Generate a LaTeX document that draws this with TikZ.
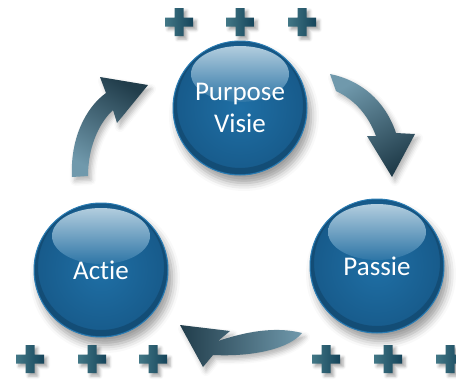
\documentclass[tikz,border=0pt]{standalone}
\usepackage{fontspec}
\setmainfont{Carlito}[Ligatures=NoCommon]
\usetikzlibrary{positioning, calc, shadows.blur}

\definecolor{ballblue}{HTML}{1F6FA5}
\definecolor{balledge}{HTML}{175A8A}
\definecolor{ballband}{HTML}{114468}
\definecolor{ballrim}{HTML}{2A7CB3}
\definecolor{glosstop}{HTML}{B2CDDE}
\definecolor{glossbottom}{HTML}{2D75A6}
\definecolor{arrowlight}{HTML}{7099AC}
\definecolor{arrowdark}{HTML}{213D4B}
\definecolor{pluslight}{HTML}{427786}
\definecolor{plusdark}{HTML}{15445A}

\begin{document}
\begin{tikzpicture}[x=1pt, y=-1pt,
    % 全域樣式設定
    ball/.style={circle, minimum size=134pt, inner sep=0pt, draw=ballrim, line width=1pt,
        inner color=ballblue, outer color=balledge,
        blur shadow={shadow xshift=4pt, shadow yshift=-8pt, shadow opacity=40, shadow blur radius=8pt}},
    ball text/.style={text=white, font=\fontsize{27}{32}\selectfont, align=center},
    gloss/.style={top color=glosstop, bottom color=glossbottom},
    % 彎曲的大箭頭
    big arrow/.style={top color=arrowdark, bottom color=arrowlight,
        blur shadow={shadow xshift=3pt, shadow yshift=-4pt, shadow opacity=30, shadow blur radius=5pt}},
    plus sign/.style={left color=pluslight, right color=plusdark,
        blur shadow={shadow xshift=3pt, shadow yshift=-3pt, shadow opacity=35, shadow blur radius=3pt}}
]
    \useasboundingbox (0,0) rectangle (456,383);

    % --- 1. 三個球 ---
    \node[ball] (visie) at (240,108) {};
    \node[ball] (actie) at (101,270) {};
    \node[ball] (passie) at (377,266) {};

    % 下緣的暗帶與上方的光澤
    \foreach \b in {visie, actie, passie} {
        \fill[ballband, opacity=0.6, even odd rule] (\b.center) circle[radius=66]
            ($(\b.center)+(0,-3)$) circle[radius=63];
        \path[gloss] ($(\b.center)+(0,-34)$) ellipse[x radius=49, y radius=28];
    }

    % 文字
    \node[ball text] (visie text) at (visie.center) {Purpose\\Visie};
    \node[ball text] (actie text) at (actie.center) {Actie};
    \node[ball text] (passie text) at (passie.center) {Passie};

    % --- 2. 三個彎曲箭頭 ---
    % Actie -> Purpose
    \path[big arrow, shading angle=-30] (72,177) .. controls (70,140) and (85,108) .. (106,93)
        -- (100,77) -- (148,85) -- (117,123) -- (113,110)
        .. controls (97,125) and (88,150) .. (88,176) -- cycle;
    % Purpose -> Passie
    \path[big arrow, shading angle=210] (330,74) .. controls (360,80) and (385,100) .. (396,133)
        -- (415,134) -- (392,177) -- (367,136) -- (376,136)
        .. controls (368,115) and (355,100) .. (336,91) -- cycle;
    % Passie -> Actie
    \path[big arrow, shading angle=90] (180,325) -- (230,331) -- (218,341)
        .. controls (245,332) and (275,326) .. (302,333)
        .. controls (290,348) and (255,357) .. (213,355) -- (203,367) -- cycle;

    % --- 3. 加號 ---
    \foreach \px/\py in {179/22, 240/22, 302/22, 30/359, 92/359, 153/359, 326/359, 388/359, 450/359}
        \path[plus sign, shift={(\px,\py)}] (-14,-4.5) -- (-4.5,-4.5) -- (-4.5,-14) -- (4.5,-14)
            -- (4.5,-4.5) -- (14,-4.5) -- (14,4.5) -- (4.5,4.5) -- (4.5,14) -- (-4.5,14)
            -- (-4.5,4.5) -- (-14,4.5) -- cycle;

\end{tikzpicture}
\end{document}
